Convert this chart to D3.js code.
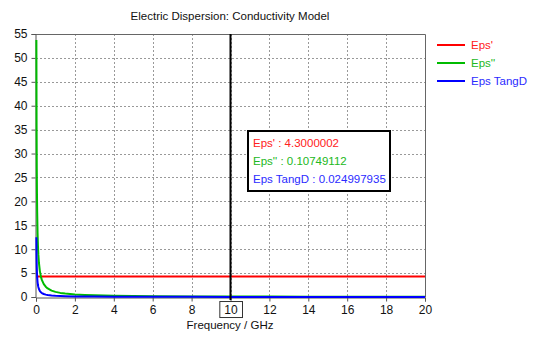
<!DOCTYPE html>
<html>
<head>
<meta charset="utf-8">
<script src="https://cdn.jsdelivr.net/npm/d3@7"></script>
<style>
  body { margin: 0; background: #fff; }
  svg { display: block; }
  text { font-family: "Liberation Sans", Arial, sans-serif; }
</style>
</head>
<body>
<svg id="chart" width="554" height="341"></svg>
<script>
// Frequency samples (GHz)
const freq = [0.02, 0.03, 0.04, 0.05, 0.06, 0.08, 0.1, 0.12, 0.15, 0.2, 0.25, 0.3, 0.4, 0.5,
  0.6, 0.8, 1, 1.25, 1.5, 2, 2.5, 3, 4, 5, 6, 8, 10, 12, 14, 16, 18, 20];
// Real permittivity
const epsReal = [4.3, 4.3, 4.3, 4.3, 4.3, 4.3, 4.3, 4.3, 4.3, 4.3, 4.3, 4.3, 4.3, 4.3,
  4.3, 4.3, 4.3, 4.3, 4.3, 4.3, 4.3, 4.3, 4.3, 4.3, 4.3, 4.3, 4.3, 4.3, 4.3, 4.3, 4.3, 4.3];
// Imaginary permittivity
const epsImag = [53.75, 35.83, 26.87, 21.5, 17.92, 13.44, 10.75, 8.96, 7.17, 5.37, 4.3, 3.58, 2.69, 2.15,
  1.79, 1.34, 1.07, 0.86, 0.72, 0.54, 0.43, 0.36, 0.27, 0.21, 0.18, 0.13, 0.1075, 0.09, 0.077, 0.067, 0.06, 0.054];
// Loss tangent
const tanD = [12.5, 8.33, 6.25, 5.0, 4.17, 3.125, 2.5, 2.08, 1.67, 1.25, 1.0, 0.83, 0.625, 0.5,
  0.417, 0.3125, 0.25, 0.2, 0.167, 0.125, 0.1, 0.083, 0.0625, 0.05, 0.042, 0.031, 0.025, 0.0208, 0.0179, 0.0156, 0.0139, 0.0125];

const xTicks = [0, 2, 4, 6, 8, 10, 12, 14, 16, 18, 20];
const yTicks = [0, 5, 10, 15, 20, 25, 30, 35, 40, 45, 50, 55];

const seriesNames = ["Eps'", "Eps''", "Eps TangD"];
const seriesColors = ["#ff0000", "#00bb00", "#0000ff"];
const labelColors = ["#ff2020", "#22b822", "#2b2bff"];
const seriesData = [epsReal, epsImag, tanD];

const cursorFreq = 10;
const cursorValues = ["4.3000002", "0.10749112", "0.024997935"];

const title = "Electric Dispersion: Conductivity Model";
const xLabel = "Frequency / GHz";

const svg = d3.select("#chart");
const plot = { left: 36, right: 425, top: 34, bottom: 297 };
const fontSize = "11.5px";

const x = d3.scaleLinear().domain([0, 20]).range([plot.left, plot.right]);
const y = d3.scaleLinear().domain([0, 55]).range([plot.bottom, plot.top]);

// Grid
const grid = svg.append("g").attr("stroke", "#999").attr("stroke-dasharray", "2,2").attr("stroke-width", 1);
xTicks.slice(1, -1).forEach(t => {
  grid.append("line").attr("x1", Math.round(x(t)) + 0.5).attr("x2", Math.round(x(t)) + 0.5)
    .attr("y1", plot.top).attr("y2", plot.bottom);
});
yTicks.slice(1, -1).forEach(t => {
  grid.append("line").attr("x1", plot.left).attr("x2", plot.right)
    .attr("y1", Math.round(y(t)) + 0.5).attr("y2", Math.round(y(t)) + 0.5);
});

// Frame (top and right)
svg.append("path")
  .attr("d", `M${plot.left},${plot.top + 0.5}H${plot.right + 0.5}V${plot.bottom}`)
  .attr("fill", "none").attr("stroke", "#666").attr("stroke-width", 1);

// Axes
const xAxis = d3.axisBottom(x).tickValues(xTicks).tickSize(4).tickPadding(4).tickFormat(d3.format("d"));
const yAxis = d3.axisLeft(y).tickValues(yTicks).tickSize(4).tickPadding(4).tickFormat(d3.format("d"));

const gx = svg.append("g").attr("transform", `translate(0,${plot.bottom + 0.5})`).call(xAxis);
const gy = svg.append("g").attr("transform", `translate(${plot.left - 0.5},0)`).call(yAxis);
[gx, gy].forEach(g => {
  g.select(".domain").attr("stroke", "#555");
  g.selectAll(".tick line").attr("stroke", "#555");
  g.selectAll(".tick text").attr("fill", "#111").style("font-size", "12px")
    .style("font-family", "'Liberation Sans', Arial, sans-serif");
});

// Series lines
const line = d3.line().x((d, i) => x(freq[i])).y(d => y(d));
seriesData.forEach((vals, k) => {
  svg.append("path").datum(vals).attr("d", line)
    .attr("fill", "none").attr("stroke", seriesColors[k]).attr("stroke-width", 2)
    .attr("stroke-linejoin", "round");
});

// Cursor
const cx = x(cursorFreq);
svg.append("line").attr("x1", cx).attr("x2", cx).attr("y1", plot.top).attr("y2", plot.bottom + 3)
  .attr("stroke", "#000").attr("stroke-width", 2);

// Boxed cursor tick label
gx.selectAll(".tick").filter(d => d === cursorFreq).each(function () {
  const bb = this.querySelector("text").getBBox();
  d3.select(this).insert("rect", "text")
    .attr("x", bb.x - 4.5).attr("y", bb.y - 1.5)
    .attr("width", bb.width + 9).attr("height", bb.height + 2)
    .attr("fill", "#fff").attr("stroke", "#333").attr("stroke-width", 1);
});

// Cursor readout box
const box = svg.append("g").attr("transform", "translate(248,131)");
box.append("rect").attr("width", 142).attr("height", 60)
  .attr("fill", "#fff").attr("stroke", "#000").attr("stroke-width", 2);
seriesNames.forEach((n, k) => {
  box.append("text").attr("x", 5).attr("y", 16 + k * 18)
    .attr("fill", labelColors[k]).style("font-size", fontSize)
    .text(`${n} : ${cursorValues[k]}`);
});

// Legend
const legend = svg.append("g").attr("transform", "translate(437,45)");
seriesNames.forEach((n, k) => {
  legend.append("line").attr("x1", 0).attr("x2", 28).attr("y1", k * 18).attr("y2", k * 18)
    .attr("stroke", seriesColors[k]).attr("stroke-width", 2);
  legend.append("text").attr("x", 34).attr("y", k * 18 + 4)
    .attr("fill", labelColors[k]).style("font-size", fontSize).text(n);
});

// Title and axis label
svg.append("text").attr("x", 230).attr("y", 20).attr("text-anchor", "middle")
  .attr("fill", "#111").style("font-size", fontSize).text(title);
svg.append("text").attr("x", 230).attr("y", 329).attr("text-anchor", "middle")
  .attr("fill", "#111").style("font-size", fontSize).text(xLabel);
</script>
</body>
</html>
